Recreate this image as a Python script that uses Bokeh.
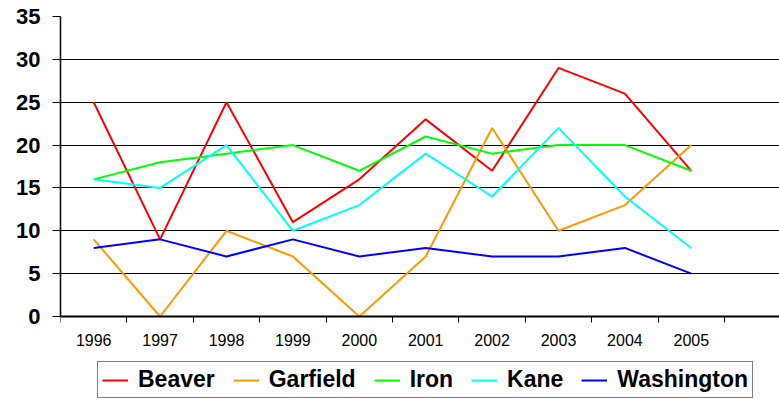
from bokeh.plotting import figure
from bokeh.models import Range1d, FixedTicker, Legend, LegendItem
from bokeh.embed import file_html
from bokeh.resources import INLINE

years = [1996, 1997, 1998, 1999, 2000, 2001, 2002, 2003, 2004, 2005]
beaver = [25, 9, 25, 11, 16, 23, 17, 29, 26, 17]
garfield = [9, 0, 10, 7, 0, 7, 22, 10, 13, 20]
iron = [16, 18, 19, 20, 17, 21, 19, 20, 20, 17]
kane = [16, 15, 20, 10, 13, 19, 14, 22, 14, 8]
washington = [8, 9, 7, 9, 7, 8, 7, 7, 8, 5]
y_ticks = [0, 5, 10, 15, 20, 25, 30, 35]

series = [
    ("Beaver", beaver, "#FF0000"),
    ("Garfield", garfield, "#FF9900"),
    ("Iron", iron, "#00FF00"),
    ("Kane", kane, "#00FFFF"),
    ("Washington", washington, "#0000FF"),
]

FW, FH = 719, 384          # frame size in px
PX_PER_UNIT = 300 / 35     # value axis: 0..35 over 300 px
below_zero = (FH - 300) / PX_PER_UNIT

p = figure(frame_width=FW, frame_height=FH, output_backend="svg", toolbar_location=None,
           x_range=Range1d(years[0] - 0.5, years[0] - 0.5 + FW / 66.4),
           y_range=Range1d(-below_zero, y_ticks[-1]),
           min_border_left=60, min_border_right=0, min_border_top=16, min_border_bottom=0)
p.outline_line_color = None
p.background_fill_color = "white"
p.border_fill_color = "white"

items = []
for name, vals, col in series:
    r = p.line(years, vals, line_color=col, line_width=2)
    items.append(LegendItem(label=name, renderers=[r]))

# grid
p.xgrid.grid_line_color = None
p.ygrid.grid_line_color = "black"
p.ygrid.grid_line_width = 1
p.ygrid.ticker = FixedTicker(ticks=y_ticks)

# y axis
p.yaxis.ticker = FixedTicker(ticks=y_ticks)
p.yaxis.bounds = (0, y_ticks[-1])
p.yaxis.axis_line_color = "black"
p.yaxis.axis_line_width = 1.5
p.yaxis.major_tick_out = 8
p.yaxis.major_tick_in = 0
p.yaxis.minor_tick_line_color = None
p.yaxis.major_tick_line_color = "black"
p.yaxis.major_label_standoff = 12
p.yaxis.major_label_text_font = "Liberation Sans"
p.yaxis.major_label_text_font_style = "bold"
p.yaxis.major_label_text_font_size = "22px"
p.yaxis.major_label_text_color = "black"

# x axis, fixed at value 0
halves = [y - 0.5 for y in years] + [years[-1] + 0.5]
p.xaxis.fixed_location = 0
p.xaxis.ticker = FixedTicker(ticks=years, minor_ticks=halves)
p.xaxis.axis_line_color = "black"
p.xaxis.axis_line_width = 2
p.xaxis.major_tick_out = 0
p.xaxis.major_tick_in = 0
p.xaxis.major_tick_line_color = None
p.xaxis.minor_tick_out = 6
p.xaxis.minor_tick_in = 0
p.xaxis.minor_tick_line_color = "black"
p.xaxis.major_label_standoff = 11
p.xaxis.major_label_text_font = "Liberation Sans"
p.xaxis.major_label_text_font_size = "16px"
p.xaxis.major_label_text_color = "black"

legend = Legend(items=items, orientation="horizontal", location=(37, 2))
legend.border_line_color = "black"
legend.border_line_width = 1
legend.background_fill_color = "white"
legend.background_fill_alpha = 1
legend.label_text_font = "Liberation Sans"
legend.label_text_font_style = "bold"
legend.label_text_font_size = "23px"
legend.label_text_color = "black"
legend.glyph_width = 26
legend.glyph_height = 20
legend.label_height = 20
legend.label_standoff = 10
legend.spacing = 18
legend.padding = 4
legend.margin = 0
p.add_layout(legend, "center")

open("out.html", "w").write(file_html(p, INLINE))
